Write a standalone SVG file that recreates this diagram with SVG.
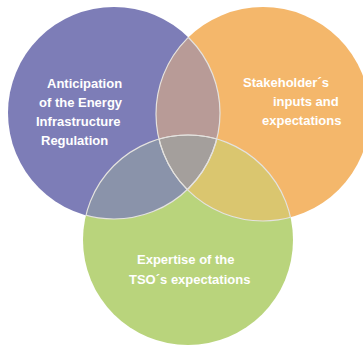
<svg xmlns="http://www.w3.org/2000/svg" xmlns:xlink="http://www.w3.org/1999/xlink" width="363" height="346" viewBox="0 0 363 346">
<style>
.lbl{font-family:"Liberation Sans",Arial,sans-serif;font-weight:bold;font-size:13px;fill:#ffffff}
.edge{fill:none;stroke:#e4e2df;stroke-width:1.2}
</style>
<defs>
<circle id="cP" cx="114" cy="113" r="106"/>
<circle id="cO" cx="263" cy="114" r="107"/>
<circle id="cG" cx="188" cy="240" r="105"/>
<clipPath id="clipP"><use xlink:href="#cP"/></clipPath>
<clipPath id="clipO"><use xlink:href="#cO"/></clipPath>
<clipPath id="clipG"><use xlink:href="#cG"/></clipPath>
</defs>
<g id="node-anticipation">
<use xlink:href="#cP" fill="#7d7db7"/>
</g>
<g id="node-stakeholder">
<use xlink:href="#cO" fill="#f4b76b"/>
</g>
<g id="node-expertise">
<use xlink:href="#cG" fill="#b9d47c"/>
</g>
<g id="overlaps">
<g clip-path="url(#clipP)"><use xlink:href="#cO" fill="#b89b97"/></g>
<g clip-path="url(#clipP)"><use xlink:href="#cG" fill="#8a93aa"/></g>
<g clip-path="url(#clipO)"><use xlink:href="#cG" fill="#dac66f"/></g>
<g clip-path="url(#clipP)"><g clip-path="url(#clipO)"><use xlink:href="#cG" fill="#a49f9c"/></g></g>
<g clip-path="url(#clipP)"><use xlink:href="#cO" class="edge"/><use xlink:href="#cG" class="edge"/></g>
<g clip-path="url(#clipO)"><use xlink:href="#cP" class="edge"/><use xlink:href="#cG" class="edge"/></g>
<g clip-path="url(#clipG)"><use xlink:href="#cP" class="edge"/><use xlink:href="#cO" class="edge"/></g>
</g>
<g id="labels">
<text class="lbl" x="47" y="88">Anticipation</text>
<text class="lbl" x="39" y="107">of the Energy</text>
<text class="lbl" x="36" y="126">Infrastructure</text>
<text class="lbl" x="41" y="145">Regulation</text>
<text class="lbl" x="243" y="87">Stakeholder´s</text>
<text class="lbl" x="273" y="106">inputs and</text>
<text class="lbl" x="262" y="125">expectations</text>
<text class="lbl" x="137" y="264">Expertise of the</text>
<text class="lbl" x="129" y="284">TSO´s expectations</text>
</g>
</svg>
